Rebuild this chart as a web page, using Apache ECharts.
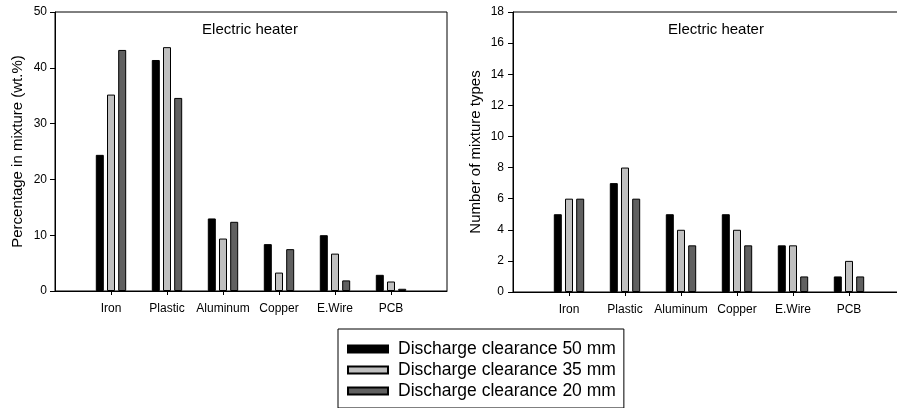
<!DOCTYPE html>
<html>
<head>
<meta charset="utf-8">
<script src="https://cdn.jsdelivr.net/npm/echarts@6/dist/echarts.min.js"></script>
<style>
  html, body { margin: 0; padding: 0; background: #fff; }
  #chart { width: 897px; height: 408px; }
</style>
</head>
<body>
<div id="chart"></div>
<script>
// Materials found in the shredded electric heater mixtures
const categories = ['Iron', 'Plastic', 'Aluminum', 'Copper', 'E.Wire', 'PCB'];
const seriesNames = ['Discharge clearance 50 mm', 'Discharge clearance 35 mm', 'Discharge clearance 20 mm'];
const seriesColors = ['#000000', '#c0c0c0', '#606060'];

// Percentage in mixture (wt.%)
const pct50 = [24.4, 41.4, 13.0, 8.4, 10.0, 2.9];
const pct35 = [35.2, 43.7, 9.4, 3.3, 6.7, 1.7];
const pct20 = [43.2, 34.6, 12.4, 7.5, 1.9, 0.4];

// Number of mixture types
const types50 = [5, 7, 5, 5, 3, 1];
const types35 = [6, 8, 4, 4, 3, 2];
const types20 = [6, 6, 3, 3, 1, 1];

const leftTicks = { min: 0, max: 50, interval: 10 };
const rightTicks = { min: 0, max: 18, interval: 2 };

const FONT = 'Liberation Sans, Arial, sans-serif';

// an empty slot on each side keeps the groups one step in from the frame
const paddedCats = [''].concat(categories, ['']);
const pad = arr => ['-'].concat(arr, ['-']);

function xAxis(gridIndex) {
  return {
    type: 'category', gridIndex, data: paddedCats, boundaryGap: false,
    axisLine: { lineStyle: { color: '#000', width: 1 } },
    axisTick: { length: 4, lineStyle: { color: '#000' },
      interval: (i, v) => v !== '' },
    axisLabel: { interval: 0, color: '#000', fontSize: 12, fontFamily: FONT, margin: 12 },
    splitLine: { show: false }
  };
}
function yAxis(gridIndex, ticks, name, labelMargin) {
  return {
    type: 'value', gridIndex, min: ticks.min, max: ticks.max, interval: ticks.interval,
    name, nameLocation: 'middle', nameGap: 30,
    nameTextStyle: { color: '#000', fontSize: 15, fontFamily: FONT },
    axisLine: { show: true, lineStyle: { color: '#000', width: 1 } },
    axisTick: { show: true, length: 5, lineStyle: { color: '#000' } },
    axisLabel: { color: '#000', fontSize: 12, fontFamily: FONT, margin: labelMargin },
    splitLine: { show: false }
  };
}
function bar(name, color, data, idx) {
  return {
    type: 'bar', name, xAxisIndex: idx, yAxisIndex: idx, data: pad(data),
    barWidth: 8, barGap: '40%',
    itemStyle: { color, borderColor: '#000', borderWidth: 1 },
    emphasis: { disabled: true }
  };
}

const chart = echarts.init(document.getElementById('chart'), null, { renderer: 'canvas' });
chart.setOption({
  animation: false,
  backgroundColor: '#fff',
  title: [
    { text: 'Electric heater', left: 245, top: 17, textAlign: 'center',
      textStyle: { fontSize: 15, fontWeight: 'normal', color: '#000', fontFamily: FONT } },
    { text: 'Electric heater', left: 711, top: 17, textAlign: 'center',
      textStyle: { fontSize: 15, fontWeight: 'normal', color: '#000', fontFamily: FONT } }
  ],
  grid: [
    { left: 55, right: 450, top: 12, bottom: 117, outerBoundsMode: 'none',
      show: true, borderColor: '#000', borderWidth: 1, backgroundColor: 'transparent' },
    { left: 513, right: -8, top: 12, bottom: 116, outerBoundsMode: 'none',
      show: true, borderColor: '#000', borderWidth: 1, backgroundColor: 'transparent' }
  ],
  xAxis: [xAxis(0), xAxis(1)],
  yAxis: [
    yAxis(0, leftTicks, 'Percentage in mixture (wt.%)', 8),
    yAxis(1, rightTicks, 'Number of mixture types', 9)
  ],
  legend: {
    data: seriesNames, orient: 'vertical', left: 338, top: 329,
    itemWidth: 40, itemHeight: 7, itemGap: 3,
    padding: [11, 8, 8, 9],
    borderColor: '#000', borderWidth: 1, borderRadius: 0,
    textStyle: { color: '#000', fontSize: 17.5, fontFamily: FONT, padding: [0, 0, 0, 5] },
    icon: 'rect', selectedMode: false
  },
  series: [
    bar(seriesNames[0], seriesColors[0], pct50, 0),
    bar(seriesNames[1], seriesColors[1], pct35, 0),
    bar(seriesNames[2], seriesColors[2], pct20, 0),
    bar(seriesNames[0], seriesColors[0], types50, 1),
    bar(seriesNames[1], seriesColors[1], types35, 1),
    bar(seriesNames[2], seriesColors[2], types20, 1)
  ]
});
</script>
</body>
</html>
